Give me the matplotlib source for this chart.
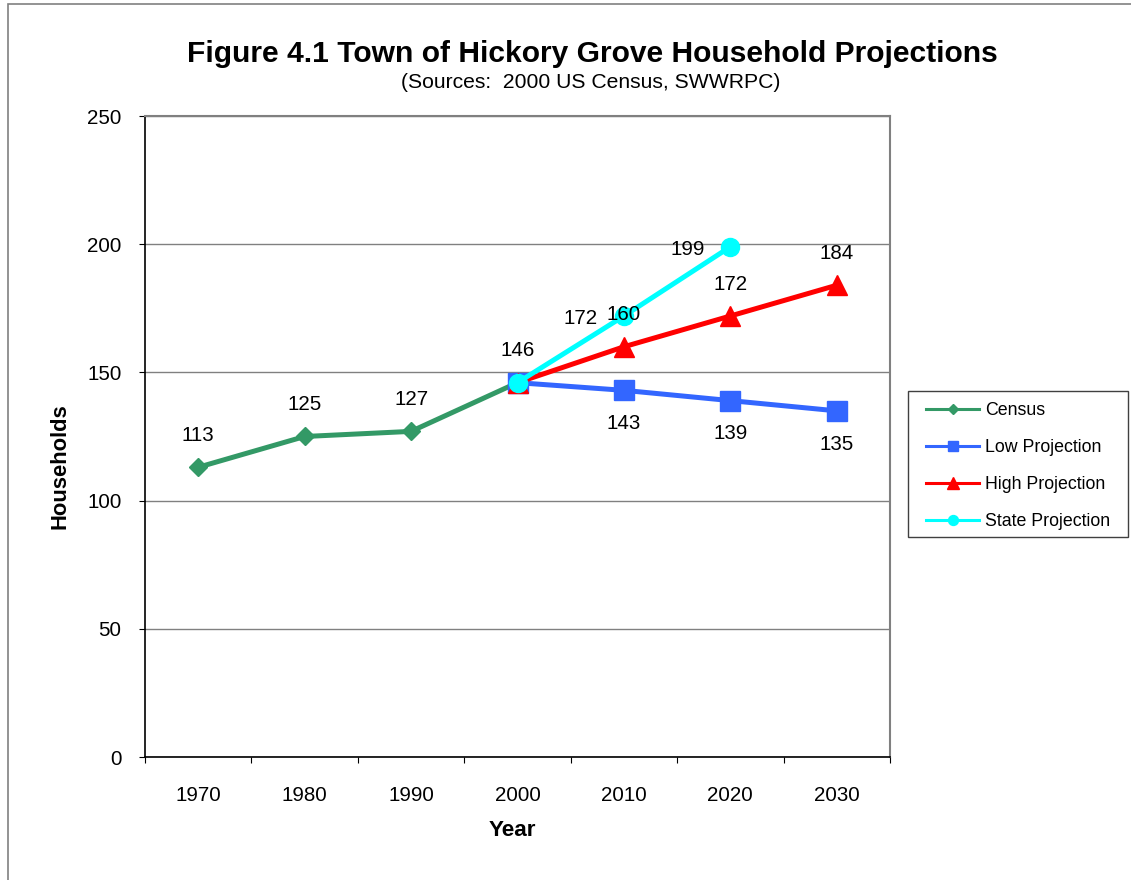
"""Household projections chart for the Town of Hickory Grove."""

import matplotlib
matplotlib.use('Agg')
import matplotlib.pyplot as plt
from matplotlib.patches import Rectangle
import numpy as np

plt.rcParams['font.family'] = ['Liberation Sans', 'DejaVu Sans']

years = ['1970', '1980', '1990', '2000', '2010', '2020', '2030']

census_years = ['1970', '1980', '1990', '2000']
census = [113, 125, 127, 146]

low_years = ['2000', '2010', '2020', '2030']
low = [146, 143, 139, 135]

high_years = ['2000', '2010', '2020', '2030']
high = [146, 160, 172, 184]

state_years = ['2000', '2010', '2020']
state = [146, 172, 199]

# excel-ish colours
#339966 - census green
#3366ff - low blue
#ff0000 - high red
#00ffff - state cyan

fig = plt.figure(figsize=(11.31, 8.8), dpi=100)
ax = fig.add_axes([145/1131, 1-757/880, 745/1131, 641/880])

pos = {y: i for i, y in enumerate(years)}

def xs(yrs):
	return [pos[y] for y in yrs]

ax.plot(xs(census_years), census, color='#339966', lw=3.6, marker='D',
	ms=9.5, label='Census', zorder=3)
ax.plot(xs(low_years), low, color='#3366ff', lw=3.6, marker='s',
	ms=14, label='Low Projection', zorder=4)
ax.plot(xs(high_years), high, color='#ff0000', lw=3.6, marker='^',
	ms=15, label='High Projection', zorder=5)
ax.plot(xs(state_years), state, color='#00ffff', lw=3.6, marker='o',
	ms=13, label='State Projection', zorder=6)

# data labels (offsets in points)
up = (0, 23)
down = (0, -24)
left = (-31, -2)

def label_points(yrs, vals, offsets):
	for y, v, off in zip(yrs, vals, offsets):
		if off is None:
			continue
		ax.annotate(str(v), (pos[y], v), xytext=off, textcoords='offset points',
			ha='center', va='center', fontsize=14.8, zorder=10)

label_points(census_years, census, [up, up, up, up])
label_points(low_years, low, [None, down, down, down])
label_points(high_years, high, [None, up, up, up])
label_points(state_years, state, [None, left, left])

ax.set_xlim(-0.5, len(years) - 0.5)
ax.set_ylim(0, 250)
ax.set_yticks(np.arange(0, 251, 50))
ax.set_xticks(np.arange(len(years)))
ax.set_xticklabels(years)
ax.set_xticks(np.arange(len(years) + 1) - 0.5, minor=True)
ax.tick_params(axis='x', which='major', length=0, pad=21, labelsize=14.8)
ax.tick_params(axis='x', which='minor', length=4.5, direction='out', width=0.8)
ax.tick_params(axis='y', length=4, direction='out', pad=13, labelsize=14.8, width=0.8)

ax.grid(axis='y', color='#808080', lw=1)
ax.set_axisbelow(True)
ax.spines['left'].set_color('black')
ax.spines['bottom'].set_color('black')
ax.spines['left'].set_linewidth(1.2)
ax.spines['bottom'].set_linewidth(1.2)
ax.spines['top'].set_color('#808080')
ax.spines['right'].set_color('#808080')
ax.spines['top'].set_linewidth(1.5)
ax.spines['right'].set_linewidth(1.5)

ax.set_xlabel('Year', fontsize=16.2, fontweight='bold')
ax.xaxis.set_label_coords(367/745, -(830-757)/641)
ax.xaxis.label.set_va('center')
ax.set_ylabel('Households', fontsize=15.8, fontweight='bold')
ax.yaxis.set_label_coords(-(145-60)/745, (757-466)/641)
ax.yaxis.label.set_va('center')

fig.text(592/1131, 1-54/880, 'Figure 4.1 Town of Hickory Grove Household Projections',
	ha='center', va='center', fontsize=21.6, fontweight='bold')
fig.text(591/1131, 1-83/880, '(Sources:  2000 US Census, SWWRPC)',
	ha='center', va='center', fontsize=15.2)

# legend in original order, frame drawn by hand
handles, labels = ax.get_legend_handles_labels()
leg = fig.legend(handles, labels,
	loc='upper left', bbox_to_anchor=(926/1131, 1-402/880), frameon=False,
	fontsize=12.8, handlelength=3.0, handletextpad=0.3, labelspacing=1.12,
	borderpad=0, borderaxespad=0, markerscale=0.55)
for h in leg.legend_handles:
	h.set_linewidth(2.2)
fig.patches.append(Rectangle((908/1131, 1-537/880), 220/1131, 146/880,
	transform=fig.transFigure, fill=False, edgecolor='#404040', lw=1))

# outer chart border (runs off the right and bottom)
fig.patches.append(Rectangle((8/1131, -0.1), 1.2, 1.1 - 4/880,
	transform=fig.transFigure, fill=False, edgecolor='#808080', lw=1.2))

fig.savefig('out.png', dpi=100)
